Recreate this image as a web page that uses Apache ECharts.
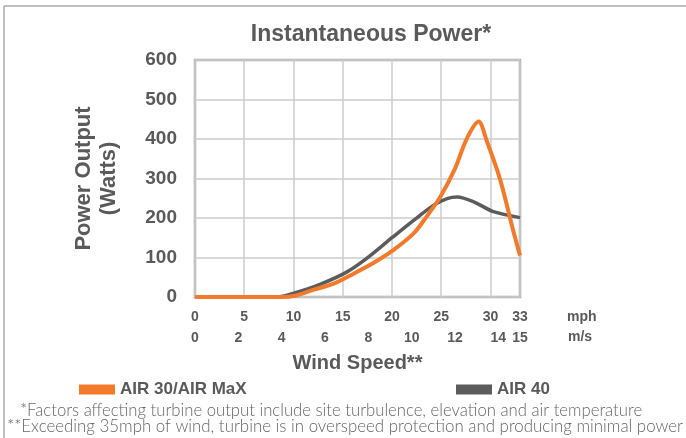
<!DOCTYPE html>
<html lang="en">
<head>
    <meta charset="utf-8">
    <title>Instantaneous Power</title>
    <script src="https://cdn.jsdelivr.net/npm/echarts@6/dist/echarts.min.js"></script>
    <style>
        html, body { margin: 0; padding: 0; background: #fff; }
        #chart { width: 686px; height: 438px; }
    </style>
</head>
<body>
<div id="chart"></div>
<script type="text/javascript">
    // wind speed (mph) / power (W)
    var air30Mph   = [0, 5, 8.5, 10.3, 12, 14.1, 16.1, 18.1, 20.1, 22.2, 23.5, 24.9, 26.4, 27.6, 28.8, 29.6, 31.0, 32.3, 33];
    var air30Watts = [0, 0, 0, 4, 18, 34, 59, 86, 118, 161, 203, 253, 325, 401, 444, 397, 296, 169, 105];
    var air40Mph   = [0, 5, 8.3, 10.2, 12.7, 15.4, 17.4, 20.1, 22.2, 24.2, 25.6, 26.6, 28.3, 30.3, 33];
    var air40Watts = [0, 0, 0, 11, 32, 63, 97, 152, 194, 232, 249, 253, 241, 216, 201];

    var mphTicks = [0, 5, 10, 15, 20, 25, 30, 33];
    var msTicks  = [0, 2, 4, 6, 8, 10, 12, 14, 15];

    var seriesNames = ['AIR 30/AIR MaX', 'AIR 40'];
    var footnotes = [
        '*Factors affecting turbine output include site turbulence, elevation and air temperature',
        '**Exceeding 35mph of wind, turbine is in overspeed protection and producing minimal power'
    ];

    function pairs(xs, ys) {
        var out = [];
        for (var i = 0; i < xs.length; i++) {
            out.push([xs[i], ys[i]]);
        }
        return out;
    }

    // pick a font size so the footnote spans the same width as the picture
    var noteFont = 'Lato, "DejaVu Sans", sans-serif';
    function fitSize(text, width) {
        var ctx = document.createElement('canvas').getContext('2d');
        ctx.font = '300 20px ' + noteFont;
        return 20 * width / ctx.measureText(text).width;
    }

    var bold = '"Liberation Sans", Arial, sans-serif';
    var gray = '#5a5a5a';

    var chart = echarts.init(document.getElementById('chart'));
    var option = {
        backgroundColor: '#fff',
        animation: false,
        title: {
            text: 'Instantaneous Power*',
            left: 366,
            top: 18,
            textAlign: 'center',
            textStyle: { fontFamily: bold, fontSize: 23, fontWeight: 'bold', color: gray }
        },
        legend: [
            {
                data: [seriesNames[0]], left: 74, top: 376, icon: 'rect',
                itemWidth: 36, itemHeight: 10,
                textStyle: { fontFamily: bold, fontSize: 17, fontWeight: 'bold', color: gray }
            },
            {
                data: [seriesNames[1]], left: 451, top: 376, icon: 'rect',
                itemWidth: 36, itemHeight: 10,
                textStyle: { fontFamily: bold, fontSize: 17, fontWeight: 'bold', color: gray }
            }
        ],
        grid: {
            left: 195, right: 166, top: 60, bottom: 141,
            show: true, borderColor: '#a8a8a8', borderWidth: 2.5
        },
        xAxis: [
            {
                type: 'value', min: 0, max: 33, interval: 5,
                axisLine: { show: false },
                axisTick: { show: false },
                splitLine: { lineStyle: { color: '#cdcdcd', width: 1.5 } },
                axisLabel: {
                    customValues: mphTicks, margin: 13,
                    fontFamily: bold, fontSize: 14, fontWeight: 'bold', color: gray
                }
            },
            {
                type: 'value', min: 0, max: 15, position: 'bottom', offset: 21,
                axisLine: { show: false },
                axisTick: { show: false },
                splitLine: { show: false },
                axisLabel: {
                    customValues: msTicks, margin: 13,
                    fontFamily: bold, fontSize: 14, fontWeight: 'bold', color: gray
                },
                name: 'Wind Speed**',
                nameLocation: 'middle',
                nameGap: 35,
                nameTextStyle: { fontFamily: bold, fontSize: 20, fontWeight: 'bold', color: gray }
            }
        ],
        yAxis: {
            type: 'value', min: 0, max: 600, interval: 100,
            axisLine: { show: false },
            axisTick: { show: false },
            splitLine: { lineStyle: { color: '#cdcdcd', width: 1.5 } },
            axisLabel: { margin: 18, fontFamily: bold, fontSize: 19, fontWeight: 'bold', color: gray },
            name: 'Power Output\n(Watts)',
            nameLocation: 'middle',
            nameGap: 74,
            nameTextStyle: { fontFamily: bold, fontSize: 22, fontWeight: 'bold', color: gray, lineHeight: 25 }
        },
        series: [
            {
                name: seriesNames[1], type: 'line', xAxisIndex: 0,
                data: pairs(air40Mph, air40Watts),
                smooth: 0.3, showSymbol: false,
                itemStyle: { color: '#5c5c5c' },
                lineStyle: { color: '#5c5c5c', width: 3.5 },
                z: 2
            },
            {
                name: seriesNames[0], type: 'line', xAxisIndex: 0,
                data: pairs(air30Mph, air30Watts),
                smooth: 0.3, showSymbol: false,
                itemStyle: { color: '#f47a2b' },
                lineStyle: { color: '#f47a2b', width: 4 },
                z: 3
            }
        ],
        graphic: [
            // frame round the picture (top and left only)
            { type: 'line', shape: { x1: 4, y1: 6, x2: 686, y2: 6 }, style: { stroke: '#aaa', lineWidth: 1.5 }, silent: true },
            { type: 'line', shape: { x1: 4, y1: 6, x2: 4, y2: 438 }, style: { stroke: '#aaa', lineWidth: 1.5 }, silent: true },
            {
                type: 'text', x: 567, y: 317,
                style: { text: 'mph', font: 'bold 14px ' + bold, fill: gray, textVerticalAlign: 'middle' }
            },
            {
                type: 'text', x: 568, y: 337,
                style: { text: 'm/s', font: 'bold 14px ' + bold, fill: gray, textVerticalAlign: 'middle' }
            },
            {
                type: 'text', x: 20, y: 411,
                style: {
                    text: footnotes[0], fill: '#666',
                    font: '300 ' + fitSize(footnotes[0], 623).toFixed(2) + 'px ' + noteFont,
                    textVerticalAlign: 'middle'
                }
            },
            {
                type: 'text', x: 7, y: 427,
                style: {
                    text: footnotes[1], fill: '#666',
                    font: '300 ' + fitSize(footnotes[1], 677).toFixed(2) + 'px ' + noteFont,
                    textVerticalAlign: 'middle'
                }
            }
        ]
    };
    chart.setOption(option);
</script>
</body>
</html>
